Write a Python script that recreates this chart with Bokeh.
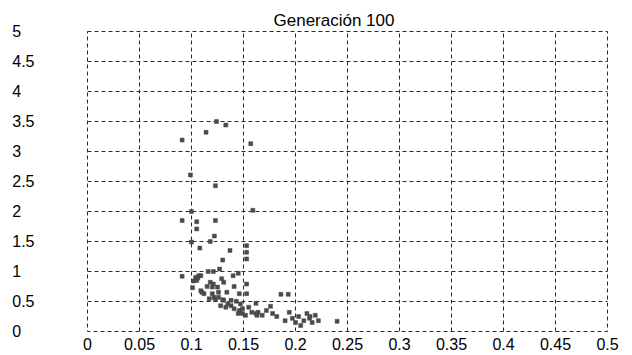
from bokeh.plotting import figure
from bokeh.models import Range1d, FixedTicker
from bokeh.embed import file_html
from bokeh.resources import INLINE

title_text = "Generación 100"

x_ticks = [0, 0.05, 0.1, 0.15, 0.2, 0.25, 0.3, 0.35, 0.4, 0.45, 0.5]
x_labels = ["0", "0.05", "0.1", "0.15", "0.2", "0.25", "0.3", "0.35", "0.4", "0.45", "0.5"]
y_ticks = [0, 0.5, 1, 1.5, 2, 2.5, 3, 3.5, 4, 4.5, 5]
y_labels = ["0", "0.5", "1", "1.5", "2", "2.5", "3", "3.5", "4", "4.5", "5"]

pts_x = [
    0.124, 0.133, 0.114, 0.091, 0.157, 0.099, 0.123, 0.100, 0.159, 0.091, 0.105,
    0.123, 0.105, 0.122, 0.100, 0.118, 0.108, 0.137, 0.153, 0.153, 0.153, 0.130,
    0.091, 0.104, 0.107, 0.109, 0.106, 0.105, 0.102, 0.116, 0.121, 0.127, 0.140,
    0.145, 0.118, 0.121, 0.131, 0.129,
    0.101, 0.115, 0.125, 0.141, 0.153, 0.120,
    0.109, 0.112, 0.110, 0.120, 0.126, 0.134, 0.146, 0.153, 0.186, 0.193,
    0.117, 0.1215, 0.123, 0.126, 0.130, 0.138, 0.143, 0.131,
    0.128, 0.133, 0.138, 0.147, 0.155, 0.162, 0.176, 0.135,
    0.141, 0.146, 0.149, 0.149, 0.158, 0.162, 0.163, 0.152, 0.145, 0.164, 0.168,
    0.172, 0.178, 0.182, 0.194, 0.203, 0.211, 0.219,
    0.190, 0.197, 0.200, 0.205, 0.208, 0.2135, 0.216, 0.222, 0.214, 0.240,
]
pts_y = [
    3.50, 3.44, 3.32, 3.19, 3.13, 2.61, 2.43, 2.00, 2.02, 1.85, 1.83,
    1.85, 1.71, 1.59, 1.49, 1.50, 1.39, 1.35, 1.43, 1.32, 1.21, 1.19,
    0.92, 0.90, 0.93, 0.93, 0.89, 0.85, 0.84, 1.00, 1.00, 1.04, 0.93,
    0.97, 0.82, 0.79, 0.82, 0.88,
    0.73, 0.75, 0.74, 0.75, 0.79, 0.74,
    0.68, 0.63, 0.655, 0.63, 0.655, 0.655, 0.63, 0.63, 0.62, 0.62,
    0.545, 0.57, 0.53, 0.57, 0.53, 0.52, 0.505, 0.52,
    0.43, 0.405, 0.43, 0.46, 0.405, 0.47, 0.42, 0.46,
    0.38, 0.35, 0.38, 0.30, 0.32, 0.30, 0.27, 0.27, 0.30, 0.32, 0.27,
    0.35, 0.30, 0.25, 0.32, 0.25, 0.30, 0.27,
    0.18, 0.22, 0.15, 0.10, 0.18, 0.22, 0.15, 0.18, 0.25, 0.17,
]

font = "Liberation Sans"

p = figure(width=632, height=355, output_backend="svg", toolbar_location=None,
           x_range=Range1d(0, 0.5), y_range=Range1d(0, 5),
           min_border_left=87, min_border_right=25, min_border_top=31,
           min_border_bottom=24)
p.background_fill_color = "white"
p.border_fill_color = "white"

# title
p.title.text = title_text
p.title.align = "left"
p.title.offset = 186
p.title.standoff = 4
p.title.text_font = font
p.title.text_font_size = "17px"
p.title.text_font_style = "normal"
p.title.text_color = "black"

# x axis: labels left-aligned at grid lines
xa = p.xaxis[0]
xa.ticker = FixedTicker(ticks=x_ticks)
xa.major_label_overrides = {t: l for t, l in zip(x_ticks, x_labels)}
xa.major_label_text_align = "left"
xa.major_label_standoff = 6
xa.axis_line_color = None
xa.major_tick_line_color = None
xa.minor_tick_line_color = None
xa.major_tick_out = 0
xa.major_tick_in = 0
xa.major_label_text_font = font
xa.major_label_text_font_size = "16px"
xa.major_label_text_color = "black"

# y axis: labels padded so that they read left-aligned
pad = "\u2008\u2007"
ya = p.yaxis[0]
ya.ticker = FixedTicker(ticks=y_ticks)
ya.major_label_overrides = {t: (l if "." in l else l + pad) for t, l in zip(y_ticks, y_labels)}
ya.major_label_standoff = 53
ya.axis_line_color = None
ya.major_tick_line_color = None
ya.minor_tick_line_color = None
ya.major_tick_out = 0
ya.major_tick_in = 0
ya.major_label_text_font = font
ya.major_label_text_font_size = "16px"
ya.major_label_text_color = "black"

p.xgrid.ticker = FixedTicker(ticks=x_ticks)
p.ygrid.ticker = FixedTicker(ticks=y_ticks)
for g in (p.xgrid, p.ygrid):
    g.grid_line_color = "#2a2a2a"
    g.grid_line_dash = "4 3"
    g.grid_line_width = 1
    g.grid_line_alpha = 1.0
p.outline_line_color = "#2a2a2a"
p.outline_line_dash = "4 3"

p.scatter(pts_x, pts_y, marker="square", size=4, fill_color="#4a4a4a",
          line_color="#4a4a4a", line_width=0.5)

open("out.html", "w").write(file_html(p, INLINE))
